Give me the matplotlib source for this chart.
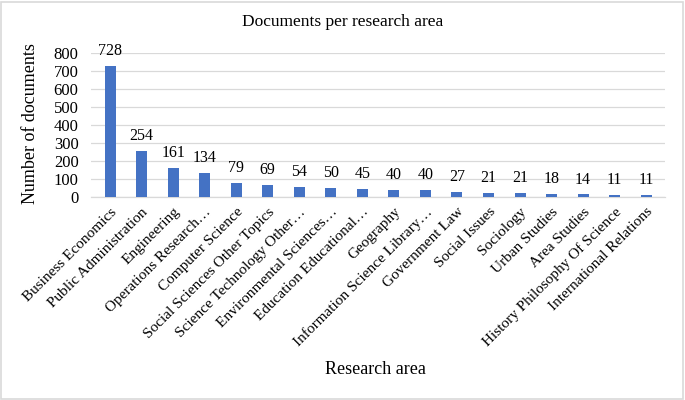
import matplotlib
matplotlib.use("Agg")
import matplotlib.pyplot as plt
from matplotlib.patches import Rectangle

areas = [
    "Business Economics", "Public Administration", "Engineering",
    "Operations Research…", "Computer Science", "Social Sciences Other Topics",
    "Science Technology Other…", "Environmental Sciences…", "Education Educational…",
    "Geography", "Information Science Library…", "Government Law",
    "Social Issues", "Sociology", "Urban Studies", "Area Studies",
    "History Philosophy Of Science", "International Relations",
]
documents = [728, 254, 161, 134, 79, 69, 54, 50, 45, 40, 40, 27, 21, 21, 18, 14, 11, 11]
y_ticks = [0, 100, 200, 300, 400, 500, 600, 700, 800]

plt.rcParams['font.family'] = ['Liberation Serif', 'DejaVu Serif']

fig = plt.figure(figsize=(6.85, 4.0), dpi=100)
ax = fig.add_axes([0.133, 0.5075, 0.838, 0.36])

x = range(len(areas))
ax.bar(x, documents, width=0.35, color='#4472C4', zorder=3)
for xi, v in zip(x, documents):
    ax.annotate(str(v), (xi, v), xytext=(0, 5), textcoords='offset points',
                ha='center', va='bottom', fontsize=11.5)

ax.set_ylim(0, 800)
ax.set_xlim(-0.6, len(areas) - 0.4)
ax.set_yticks(y_ticks)
ax.tick_params(axis='y', length=0, labelsize=12, pad=9)
ax.tick_params(axis='x', length=0, labelsize=11, pad=6)
ax.set_xticks(list(x))
ax.set_xticklabels(areas, rotation=45, ha='right', rotation_mode='anchor')
ax.grid(axis='y', color='#d9d9d9', linewidth=0.9, zorder=0)
for side in ['top', 'right', 'left']:
    ax.spines[side].set_visible(False)
ax.spines['bottom'].set_color('#d9d9d9')
ax.spines['bottom'].set_linewidth(0.9)

fig.text(0.045, 0.69, "Number of documents", rotation=90, ha='center', va='center', fontsize=13)
fig.text(0.5, 0.945, "Documents per research area", ha='center', va='center', fontsize=12.5)
fig.text(0.548, 0.075, "Research area", ha='center', va='center', fontsize=13)

fig.patches.append(Rectangle((0.002, 0.003), 0.995, 0.992, transform=fig.transFigure,
                             fill=False, edgecolor='#d9d9d9', linewidth=1.2))

fig.savefig("out.png", dpi=100)
